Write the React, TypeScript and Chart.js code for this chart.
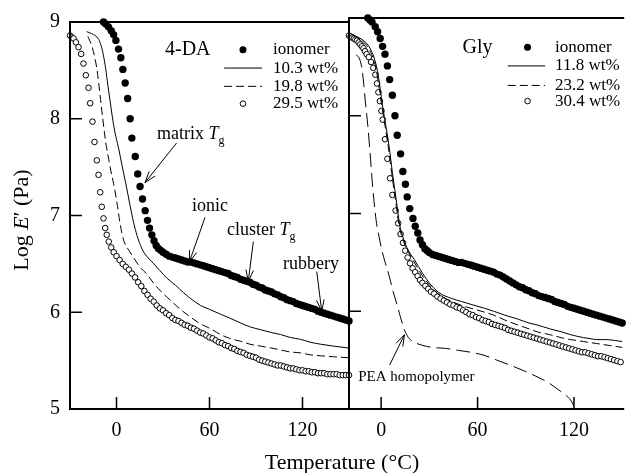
import React, { useEffect, useRef } from "react";
import { Chart, registerables } from "chart.js";

Chart.register(...registerables);

const FONT = "'Liberation Serif', 'Times New Roman', Times, serif";
Chart.defaults.font.family = FONT;

// ---------- ticks & labels ----------
const xTickValues = [0, 60, 120];
const yTickValues = [5, 6, 7, 8, 9];
const xTitle = "Temperature (°C)";
const leftLabels = ["ionomer", "10.3 wt%", "19.8 wt%", "29.5 wt%"];
const rightLabels = ["ionomer", "11.8 wt%", "23.2 wt%", "30.4 wt%"];
const leftPanelName = "4-DA";
const rightPanelName = "Gly";
const peaLabel = "PEA homopolymer";

// ---------- LEFT PANEL (4-DA) ----------
const daIonT = [-8.4, -6.9, -5.2, -3.4, -1.9, -0.4, 1.3, 2.8, 4.1, 5.6, 7.2, 8.8, 9.9, 12.1, 13.7, 15.2, 16.8, 18.5, 20, 21.3, 22.8, 24.2, 25.6, 27, 28.5,
  30, 32, 34, 36, 38, 40, 42, 44, 46, 48, 50, 52, 54, 56, 58, 60, 62, 64, 66, 68, 70, 72, 74, 76, 78, 80, 82, 84, 86, 88, 90, 92, 94, 96, 98, 100,
  102, 104, 106, 108, 110, 112, 114, 116, 118, 120, 122, 124, 126, 128, 130, 132, 134, 136, 138, 140, 142, 144, 146, 148, 150];
const daIonE = [9.00, 8.98, 8.95, 8.91, 8.87, 8.81, 8.72, 8.63, 8.51, 8.37, 8.21, 8.00, 7.80, 7.61, 7.43, 7.30, 7.17, 7.05, 6.95, 6.87, 6.80, 6.74, 6.69, 6.66, 6.64,
  6.62, 6.60, 6.58, 6.57, 6.56, 6.55, 6.54, 6.53, 6.52, 6.52, 6.51, 6.50, 6.49, 6.48, 6.47, 6.46, 6.45, 6.44, 6.43, 6.42, 6.41, 6.40, 6.38, 6.37, 6.36, 6.34,
  6.33, 6.32, 6.31, 6.29, 6.28, 6.26, 6.25, 6.23, 6.22, 6.21, 6.19, 6.18, 6.16, 6.15, 6.13, 6.12, 6.11, 6.09, 6.08, 6.07, 6.06, 6.05, 6.04, 6.03, 6.01,
  6.00, 5.99, 5.98, 5.97, 5.96, 5.95, 5.94, 5.93, 5.92, 5.91];

const da103T = [-19.2, -16, -13.8, -11.5, -10, -8.5, -7, -5.6, -4.1, -2.6, -1, 1.3, 3.4, 6, 8.8, 11, 13.3, 15.5, 17.6, 20, 24.1, 28, 32.7, 38, 43.4, 48, 54.2, 60,
  67.1, 73, 80, 86, 92.9, 100, 105.8, 112, 118.7, 125, 131.6, 140, 150];
const da103E = [8.90, 8.88, 8.86, 8.82, 8.76, 8.66, 8.52, 8.35, 8.18, 8.01, 7.86, 7.70, 7.53, 7.33, 7.10, 6.93, 6.79, 6.69, 6.62, 6.57, 6.50, 6.43, 6.35, 6.28,
  6.20, 6.14, 6.07, 6.03, 5.98, 5.94, 5.89, 5.85, 5.82, 5.79, 5.77, 5.74, 5.72, 5.69, 5.67, 5.65, 5.63];

const da198T = [-18.5, -17, -15.5, -14, -12.7, -11.5, -10.3, -9, -7.8, -6.6, -5, -3.5, -1.9, 0.2, 2.5, 4.7, 8, 11.2, 15, 19.8, 24, 28.4, 33, 37, 42, 47.7, 54.2,
  60.6, 67.1, 73, 80, 86, 92.9, 100, 105.8, 112, 118.7, 125, 131.6, 140, 150];
const da198E = [8.85, 8.80, 8.73, 8.63, 8.52, 8.37, 8.20, 8.02, 7.86, 7.72, 7.58, 7.45, 7.33, 7.14, 6.90, 6.74, 6.64, 6.56, 6.47, 6.39, 6.30, 6.22, 6.15, 6.09,
  6.02, 5.95, 5.88, 5.83, 5.77, 5.73, 5.70, 5.67, 5.65, 5.63, 5.61, 5.59, 5.58, 5.56, 5.55, 5.54, 5.53];

const da295T = [-30, -28.8, -27.7, -26.2, -24.5, -22.8, -21.3, -19.8, -18.1, -17, -15.5, -14.2, -12.7, -11.6, -10.5, -9.5, -8.4, -7.3, -6.3, -5, -3.4, -1.8,
  0, 2, 4, 6, 8, 10, 12, 14, 16, 18, 20, 22, 24, 26, 28, 30, 32, 34, 36, 38, 40, 42, 44, 46, 48, 50, 52, 54, 56, 58, 60, 62, 64, 66, 68, 70, 72, 74, 76, 78,
  80, 82, 84, 86, 88, 90, 92, 94, 96, 98, 100, 102, 104, 106, 108, 110, 112, 114, 116, 118, 120, 122, 124, 126, 128, 130, 132, 134, 136, 138, 140, 142, 144,
  146, 148, 150];
const da295E = [8.86, 8.84, 8.83, 8.79, 8.74, 8.67, 8.57, 8.45, 8.32, 8.16, 7.97, 7.76, 7.57, 7.42, 7.24, 7.09, 6.97, 6.87, 6.80, 6.73, 6.67, 6.62,
  6.58, 6.54, 6.50, 6.47, 6.44, 6.40, 6.36, 6.31, 6.27, 6.22,
  6.18, 6.14, 6.11, 6.07, 6.04, 6.02, 5.99, 5.97, 5.94, 5.92,
  5.91, 5.89, 5.87, 5.86, 5.84, 5.83, 5.81, 5.79, 5.78, 5.76,
  5.74, 5.73, 5.71, 5.69, 5.68, 5.66, 5.65, 5.63, 5.62, 5.60,
  5.59, 5.58, 5.56, 5.55, 5.54, 5.53, 5.51, 5.50, 5.49, 5.48,
  5.47, 5.46, 5.45, 5.45, 5.44, 5.43, 5.42, 5.42, 5.41, 5.40,
  5.40, 5.39, 5.39, 5.38, 5.38, 5.37, 5.37, 5.37, 5.36, 5.36,
  5.36, 5.36, 5.35, 5.35, 5.35, 5.35];

// ---------- RIGHT PANEL (Gly) ----------
const glyIonT = [-8.3, -7, -5.7, -3.7, -2.2, -0.6, 0.9, 2.4, 3.9, 5.3, 7, 8.6, 10, 12.1, 13.5, 15.1, 16.2, 17.8, 19.8, 21.2, 22.8, 24.2, 25.7, 27.2, 28.7,
  30, 32, 34, 36, 38, 40, 42, 44, 46, 48, 50, 52, 54, 56, 58, 60, 62, 64, 66, 68, 70, 72, 74, 76, 78, 80, 82, 84, 86, 88, 90, 92, 94, 96, 98, 100,
  102, 104, 106, 108, 110, 112, 114, 116, 118, 120, 122, 124, 126, 128, 130, 132, 134, 136, 138, 140, 142, 144, 146, 148, 150];
const glyIonE = [9.00, 8.98, 8.96, 8.91, 8.86, 8.79, 8.71, 8.63, 8.51, 8.37, 8.21, 8.00, 7.80, 7.61, 7.43, 7.30, 7.17, 7.05, 6.95, 6.87, 6.80, 6.73, 6.68, 6.64, 6.62,
  6.60, 6.58, 6.57, 6.56, 6.55, 6.54, 6.53, 6.52, 6.51, 6.50,
  6.50, 6.49, 6.48, 6.47, 6.46, 6.45, 6.44, 6.43, 6.42, 6.41,
  6.40, 6.38, 6.37, 6.35, 6.33, 6.31, 6.29, 6.27, 6.25, 6.24,
  6.22, 6.21, 6.19, 6.18, 6.16, 6.15, 6.14, 6.13, 6.12, 6.10,
  6.09, 6.08, 6.07, 6.05, 6.04, 6.03, 6.02, 6.01, 6.00, 5.99,
  5.98, 5.97, 5.96, 5.95, 5.94, 5.93, 5.92, 5.91, 5.90, 5.89,
  5.88];

const gly118T = [-18, -14, -11, -8, -6, -4.3, -2.2, -0.6, 0.8, 2.4, 4.9, 7, 9.4, 11.6, 13.3, 15, 17, 20.6, 25.7, 31, 36, 44, 50, 56, 64.5, 70, 77, 85, 92, 97,
  105, 112, 118, 126, 130, 134, 140, 146, 150];
const gly118E = [8.83, 8.80, 8.77, 8.72, 8.66, 8.59, 8.45, 8.28, 8.11, 7.95, 7.69, 7.42, 7.14, 6.88, 6.77, 6.69, 6.62, 6.53, 6.39, 6.27, 6.19, 6.13, 6.10, 6.07,
  6.03, 6.00, 5.96, 5.92, 5.88, 5.86, 5.82, 5.79, 5.76, 5.73, 5.72, 5.71, 5.71, 5.70, 5.69];

const gly232T = [-18, -15, -12, -9, -6.5, -4.8, -2.8, -1.2, 0.3, 1.9, 4.4, 6.5, 8.9, 11.1, 12.8, 14.5, 16.5, 20, 25, 30.5, 36, 44, 50, 56, 64.5, 70, 77, 85, 92,
  97, 105, 112, 118, 126, 134, 142, 150];
const gly232E = [8.83, 8.80, 8.77, 8.72, 8.65, 8.58, 8.45, 8.28, 8.11, 7.95, 7.69, 7.42, 7.14, 6.88, 6.77, 6.69, 6.62, 6.52, 6.38, 6.26, 6.17, 6.10, 6.06, 6.03,
  5.99, 5.96, 5.91, 5.86, 5.82, 5.79, 5.76, 5.73, 5.71, 5.69, 5.67, 5.65, 5.63];

const gly304T = [-20, -19, -18, -17, -16, -15, -14, -13, -12, -11, -10, -9, -7.7, -6.3, -4.9, -3.6, -2.6, -1.7, -0.8, 0.2, 1, 2.4, 3.9, 5.5, 7, 9, 10.6, 12.1,
  13.6, 15, 16.5, 18, 19.6, 21.2, 22.7, 24.2, 25.7, 27.5, 29.3, 31,
  33, 35, 37, 39, 41, 43, 45, 47, 49, 51, 53, 55, 57, 59, 61, 63, 65, 67, 69, 71, 73, 75, 77, 79, 81, 83, 85, 87, 89, 91, 93, 95, 97, 99, 101, 103, 105,
  107, 109, 111, 113, 115, 117, 119, 121, 123, 125, 127, 129, 131, 133, 135, 137, 139, 141, 143, 145, 147, 149];
const gly304E = [8.82, 8.81, 8.80, 8.79, 8.78, 8.77, 8.75, 8.73, 8.71, 8.69, 8.66, 8.63, 8.60, 8.55, 8.49, 8.42, 8.33, 8.24, 8.15, 8.05,
  7.96, 7.76, 7.56, 7.36, 7.19, 7.03, 6.90, 6.79, 6.70, 6.62, 6.55, 6.49, 6.44, 6.40, 6.36, 6.32, 6.29, 6.26, 6.23, 6.20,
  6.18, 6.15, 6.13, 6.11, 6.09, 6.07, 6.06, 6.04, 6.03, 6.01,
  5.99, 5.97, 5.96, 5.94, 5.93, 5.91, 5.90, 5.89, 5.87, 5.86,
  5.85, 5.84, 5.83, 5.81, 5.80, 5.79, 5.78, 5.77, 5.76, 5.75,
  5.74, 5.73, 5.72, 5.71, 5.70, 5.69, 5.68, 5.67, 5.66, 5.65,
  5.64, 5.63, 5.62, 5.61, 5.60, 5.59, 5.58, 5.58, 5.57, 5.56,
  5.55, 5.54, 5.54, 5.53, 5.52, 5.51, 5.50, 5.49, 5.48];

const peaT = [-15.5, -14, -12.8, -11.8, -10.8, -9.8, -8.3, -6.9, -5.3, -3.2, -1.5, 0.5, 2.5, 5, 7.5, 10, 12, 13.5, 14.5, 17, 21, 26, 32, 40, 48, 56, 64, 72, 80,
  89, 97, 104, 110, 115, 118, 120];
const peaE = [8.62, 8.60, 8.55, 8.47, 8.32, 8.14, 7.90, 7.62, 7.28, 6.94, 6.78, 6.62, 6.50, 6.36, 6.20, 6.06, 5.94, 5.86, 5.81, 5.73, 5.68, 5.65, 5.63, 5.62,
  5.60, 5.58, 5.55, 5.50, 5.45, 5.39, 5.33, 5.27, 5.20, 5.14, 5.09, 5.03];

// ---------- helpers ----------
const pts = (t: number[], e: number[]) =>
  t.slice(0, Math.min(t.length, e.length)).map((x, i) => ({ x, y: e[i] }));

const filledSet = (data: any[]) => ({
  data, showLine: false, pointRadius: 3.7, pointHoverRadius: 3.7, pointBackgroundColor: "#000",
  pointBorderColor: "#000", pointBorderWidth: 0, clip: false, order: 2,
});
const hollowSet = (data: any[]) => ({
  data, showLine: false, pointRadius: 2.8, pointHoverRadius: 2.8, pointBackgroundColor: "#fff",
  pointBorderColor: "#000", pointBorderWidth: 1, clip: false, order: 3,
});
const lineSet = (data: any[], dash: number[]) => ({
  data, showLine: true, pointRadius: 0, pointHoverRadius: 0, borderColor: "#000", borderWidth: 1,
  borderDash: dash, cubicInterpolationMode: "monotone", fill: false, clip: false, order: 1,
});

type Part = { t: string; italic?: boolean; sub?: boolean };

function drawRich(ctx: CanvasRenderingContext2D, x: number, y: number, parts: Part[], size: number, align = "left") {
  const fontFor = (p: Part) => `${p.italic ? "italic " : ""}${p.sub ? Math.round(size * 0.68) : size}px ${FONT}`;
  let w = 0;
  for (const p of parts) { ctx.font = fontFor(p); w += ctx.measureText(p.t).width; }
  let cx = align === "center" ? x - w / 2 : x;
  ctx.textBaseline = "middle";
  ctx.textAlign = "left";
  for (const p of parts) {
    ctx.font = fontFor(p);
    ctx.fillText(p.t, cx, p.sub ? y + size * 0.38 : y);
    cx += ctx.measureText(p.t).width;
  }
}

function drawArrow(ctx: CanvasRenderingContext2D, x1: number, y1: number, x2: number, y2: number) {
  ctx.beginPath(); ctx.moveTo(x1, y1); ctx.lineTo(x2, y2); ctx.stroke();
  const ang = Math.atan2(y2 - y1, x2 - x1);
  const L = 12, a = 0.32;
  ctx.beginPath();
  ctx.moveTo(x2 - L * Math.cos(ang - a), y2 - L * Math.sin(ang - a));
  ctx.lineTo(x2, y2);
  ctx.lineTo(x2 - L * Math.cos(ang + a), y2 - L * Math.sin(ang + a));
  ctx.stroke();
}

const decorPlugin = {
  id: "decor",
  afterDatasetsDraw(chart: any, _args: any, opts: any) {
    const { ctx, chartArea: a, scales } = chart;
    const px = (v: number) => scales.x.getPixelForValue(v);
    const py = (v: number) => scales.y.getPixelForValue(v);
    ctx.save();
    ctx.strokeStyle = "#000";
    ctx.fillStyle = "#000";
    ctx.setLineDash([]);
    // frame
    ctx.lineWidth = 2;
    ctx.beginPath();
    if (opts.right) {
      ctx.moveTo(a.right + 2, a.top); ctx.lineTo(a.left, a.top); ctx.lineTo(a.left, a.bottom); ctx.lineTo(a.right + 2, a.bottom);
    } else {
      ctx.moveTo(a.right, a.top); ctx.lineTo(a.left, a.top); ctx.lineTo(a.left, a.bottom); ctx.lineTo(a.right, a.bottom);
      ctx.closePath();
    }
    ctx.stroke();
    // inward ticks
    ctx.lineWidth = 1.5;
    for (const t of xTickValues) {
      const x = px(t);
      ctx.beginPath(); ctx.moveTo(x, a.bottom); ctx.lineTo(x, a.bottom - 12); ctx.stroke();
    }
    for (const t of yTickValues) {
      const y = py(t);
      ctx.beginPath(); ctx.moveTo(a.left, y); ctx.lineTo(a.left + 12, y); ctx.stroke();
    }
    // legend
    const lg = opts.legend;
    drawRich(ctx, px(lg.nameX), py(lg.rowsY[0]), [{ t: lg.name }], 20);
    const kinds = ["filled", "solid", "dash", "hollow"];
    lg.labels.forEach((lab: string, i: number) => {
      const y = py(lg.rowsY[i]);
      const k = kinds[i];
      ctx.lineWidth = 1;
      if (k === "filled") {
        ctx.beginPath(); ctx.arc(px(lg.markerX), y, 3.5, 0, Math.PI * 2); ctx.fill();
      } else if (k === "hollow") {
        ctx.beginPath(); ctx.arc(px(lg.markerX), y, 2.8, 0, Math.PI * 2);
        ctx.fillStyle = "#fff"; ctx.fill(); ctx.fillStyle = "#000"; ctx.stroke();
      } else {
        ctx.setLineDash(k === "dash" ? [8, 4] : []);
        ctx.beginPath(); ctx.moveTo(px(lg.lineX1), y); ctx.lineTo(px(lg.lineX2), y); ctx.stroke();
        ctx.setLineDash([]);
      }
      drawRich(ctx, px(lg.textX), y, [{ t: lab }], 17);
    });
    // notes
    for (const n of opts.notes) drawRich(ctx, px(n.x), py(n.y), n.parts, n.size);
    ctx.lineWidth = 1;
    for (const ar of opts.arrows) drawArrow(ctx, px(ar[0]), py(ar[1]), px(ar[2]), py(ar[3]));
    // axis titles
    if (opts.titles) {
      drawRich(ctx, 342, 463, [{ t: xTitle }], 22, "center");
      ctx.save();
      ctx.translate(22, 220);
      ctx.rotate(-Math.PI / 2);
      drawRich(ctx, 0, 0, [{ t: "Log " }, { t: "E", italic: true }, { t: "\u2032 (Pa)" }], 22, "center");
      ctx.restore();
    }
    ctx.restore();
  },
};

function makeConfig(side: "left" | "right"): any {
  const isLeft = side === "left";
  const datasets = isLeft
    ? [filledSet(pts(daIonT, daIonE)), lineSet(pts(da103T, da103E), []), lineSet(pts(da198T, da198E), [8, 4]),
       hollowSet(pts(da295T, da295E))]
    : [filledSet(pts(glyIonT, glyIonE)), lineSet(pts(gly118T, gly118E), []), lineSet(pts(gly232T, gly232E), [8, 4]),
       hollowSet(pts(gly304T, gly304E)), lineSet(pts(peaT, peaE), [14, 6])];
  const sub = (w: string): Part[] => [{ t: w }, { t: "T", italic: true }, { t: "g", sub: true }];
  const decor = isLeft
    ? {
        titles: true, right: false,
        legend: { name: leftPanelName, nameX: 31.3, markerX: 81.6, lineX1: 69.4, lineX2: 93.9, textX: 101,
          rowsY: [8.714, 8.524, 8.335, 8.156], labels: leftLabels },
        notes: [
          { x: 26.1, y: 7.84, parts: sub("matrix "), size: 18 },
          { x: 48.7, y: 7.10, parts: [{ t: "ionic" }], size: 18 },
          { x: 71.3, y: 6.85, parts: sub("cluster "), size: 18 },
          { x: 107.4, y: 6.50, parts: [{ t: "rubbery" }], size: 18 },
        ],
        arrows: [[38.8, 7.75, 18.4, 7.34], [57.1, 6.98, 47, 6.52], [88.3, 6.73, 85, 6.32], [129.2, 6.42, 132.4, 6.01]],
      }
    : {
        titles: false, right: true,
        legend: { name: rightPanelName, nameX: 50.6, markerX: 91.1, lineX1: 78.8, lineX2: 102, textX: 108.2,
          rowsY: [8.70, 8.51, 8.31, 8.15], labels: rightLabels },
        notes: [{ x: -14.3, y: 5.33, parts: [{ t: peaLabel }], size: 15 }],
        arrows: [[5.3, 5.45, 14.5, 5.76]],
      };
  return {
    type: "scatter",
    data: { datasets },
    options: {
      animation: false,
      responsive: false,
      devicePixelRatio: 1,
      events: [],
      layout: { padding: isLeft ? { left: 0, right: 277, top: 18, bottom: 0 } : { left: 349, right: 0, top: 18, bottom: 0 } },
      plugins: { legend: { display: false }, tooltip: { enabled: false }, decor },
      scales: {
        x: {
          type: "linear", min: isLeft ? -30 : -20, max: 150,
          grid: { display: false, drawTicks: false }, border: { display: false },
          ticks: { color: "#000", font: { family: FONT, size: 20 }, padding: 10 },
          afterBuildTicks: (s: any) => { s.ticks = xTickValues.map((v) => ({ value: v })); },
          afterFit: (s: any) => { s.height = 64; },
        },
        y: {
          type: "linear", min: 5, max: 9, display: isLeft,
          grid: { display: false, drawTicks: false }, border: { display: false },
          ticks: { color: "#000", font: { family: FONT, size: 20 }, padding: 10 },
          afterBuildTicks: (s: any) => { s.ticks = yTickValues.map((v) => ({ value: v })); },
          afterFit: (s: any) => { s.width = isLeft ? 70 : 0; },
        },
      },
    },
    plugins: [decorPlugin],
  };
}

export default function App() {
  const leftRef = useRef<HTMLCanvasElement>(null);
  const rightRef = useRef<HTMLCanvasElement>(null);
  useEffect(() => {
    document.body.style.margin = "0";
    const c1 = new Chart(leftRef.current as HTMLCanvasElement, makeConfig("left"));
    const c2 = new Chart(rightRef.current as HTMLCanvasElement, makeConfig("right"));
    return () => { c1.destroy(); c2.destroy(); };
  }, []);
  return (
    <div style={{ position: "fixed", left: 0, top: 0, width: 626, height: 473, background: "#fff" }}>
      <canvas ref={leftRef} width={626} height={473} style={{ position: "absolute", left: 0, top: 0 }} />
      <canvas ref={rightRef} width={626} height={473} style={{ position: "absolute", left: 0, top: 0 }} />
    </div>
  );
}
